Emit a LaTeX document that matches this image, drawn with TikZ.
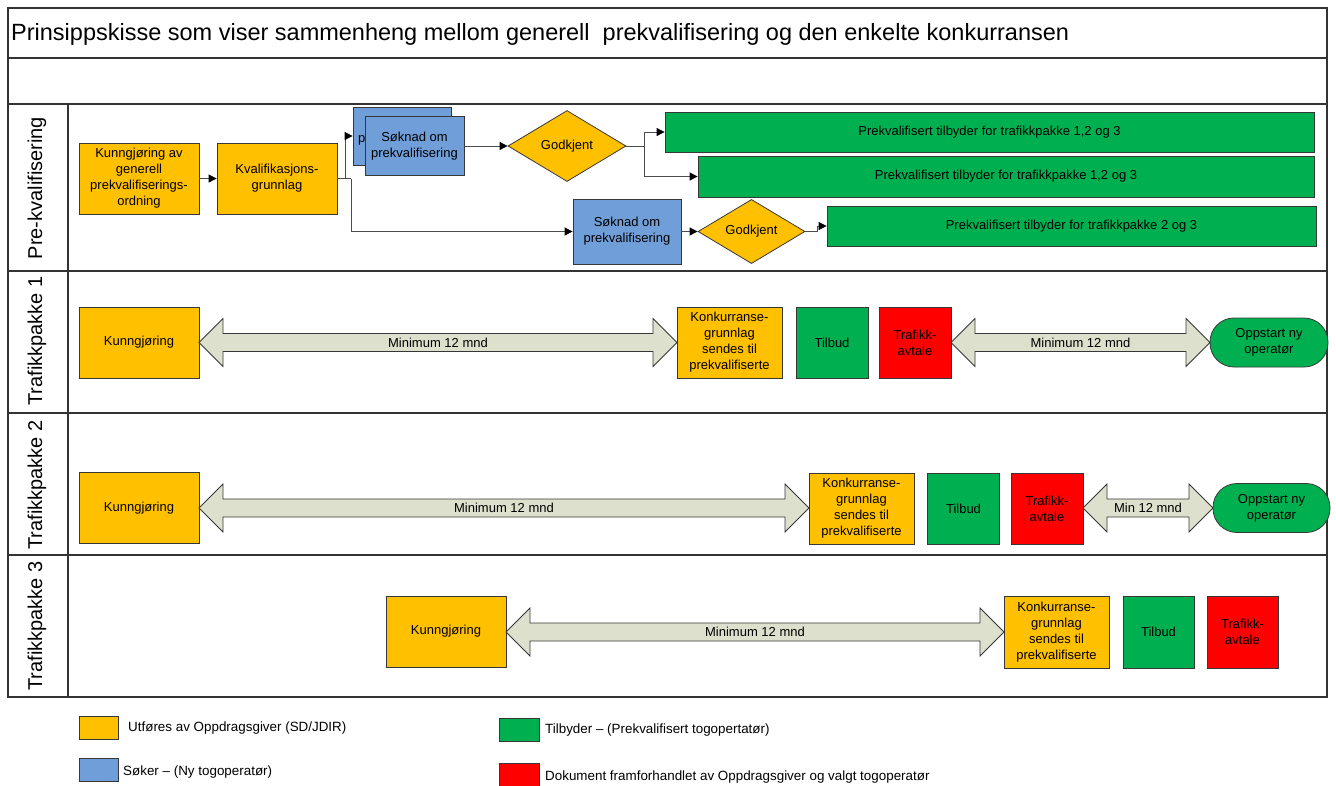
\documentclass[tikz,border=0pt]{standalone}
\usepackage{fontspec}
\setmainfont{Liberation Sans}
\usetikzlibrary{shapes.geometric,arrows.meta}
\definecolor{orng}{RGB}{255,192,0}
\definecolor{blu}{RGB}{112,158,216}
\definecolor{grn}{RGB}{0,176,80}
\definecolor{rd}{RGB}{255,0,0}
\definecolor{arrfill}{RGB}{221,224,205}
\definecolor{edgec}{RGB}{55,55,55}
\tikzset{
  sz/.style 2 args={minimum width=#1pt, minimum height=#2pt},
  box/.style={draw=edgec, line width=0.8pt, inner sep=0pt, align=center,
    font=\fontsize{13}{16}\selectfont, text=black},
  ob/.style={box, fill=orng},
  bb/.style={box, fill=blu},
  gb/.style={box, fill=grn},
  rb/.style={box, fill=rd},
  dia/.style={box, diamond, fill=orng},
  stad/.style={box, fill=grn, rounded corners=24pt},
  conn/.style={draw=black!70, line width=0.8pt},
  arrc/.style={conn, -{Triangle[length=8pt,width=8pt,color=black]}},
  frame/.style={draw=black!80, line width=1.3pt},
  lanelabel/.style={rotate=90, font=\fontsize{20}{24}\selectfont},
  dbl/.style={draw=edgec, fill=arrfill, line width=0.8pt},
  dbltext/.style={font=\fontsize{13}{16}\selectfont, inner sep=0pt},
  lgtext/.style={anchor=west, font=\fontsize{13.4}{16}\selectfont, inner sep=0pt},
}
\newcommand\dblarr[5]{%
  \draw[dbl] (#2,#4) -- ({#2+24},{#4-24}) -- ({#2+24},{#4-9}) -- ({#3-24},{#4-9})
    -- ({#3-24},{#4-24}) -- (#3,#4) -- ({#3-24},{#4+24}) -- ({#3-24},{#4+9})
    -- ({#2+24},{#4+9}) -- ({#2+24},{#4+24}) -- cycle;
  \node[dbltext] (#1) at ({(#2+#3)/2},#4) {#5};}
\begin{document}
\begin{tikzpicture}[x=1pt,y=-1pt]
\fill[white] (0,0) rectangle (1336,785);
\useasboundingbox (0,0) rectangle (1336,785);

% frame
\draw[frame] (8,8) rectangle (1327,697);
\draw[frame] (8,58) -- (1327,58);
\draw[frame] (8,104) -- (1327,104);
\draw[frame] (8,271) -- (1327,271);
\draw[frame] (8,413) -- (1327,413);
\draw[frame] (8,555) -- (1327,555);
\draw[frame] (68,104) -- (68,697);

\node[anchor=base west, inner sep=0pt, font=\fontsize{23.5}{28}\selectfont] (title) at (11,40)
  {Prinsippskisse som viser sammenheng mellom generell\ \ prekvalifisering og den enkelte konkurransen};

\node[lanelabel] (l0) at (37,188) {Pre-kvalifisering};
\node[lanelabel] (l1) at (37,341) {Trafikkpakke 1};
\node[lanelabel] (l2) at (37,485) {Trafikkpakke 2};
\node[lanelabel] (l3) at (37,626) {Trafikkpakke 3};

% pre-kvalifisering lane
\node[ob, sz={120}{71}] (k1) at (139,178.5) {Kunngjøring av\\generell\\prekvalifiserings-\\ordning};
\node[ob, sz={120}{71}] (kg) at (277,178.5) {Kvalifikasjons-\\grunnlag};
% stacked (back) application box: only the first letter of its text shows
\node[bb, sz={98}{58}, text width=88pt, align=left, inner xsep=5pt] (sb) at (402,136) {\mbox{}\\p};
\node[bb, sz={99}{59}] (sf) at (414.5,146) {Søknad om\\prekvalifisering};
\node[dia, sz={118}{71}] (d1) at (567,146) {Godkjent};
\node[gb, sz={649}{40}] (g1) at (989.5,132) {Prekvalifisert tilbyder for trafikkpakke 1,2 og 3};
\node[gb, sz={616}{41}] (g2) at (1006,176.5) {Prekvalifisert tilbyder for trafikkpakke 1,2 og 3};
\node[bb, sz={108}{65}] (s2) at (627,231.5) {Søknad om\\prekvalifisering};
\node[dia, sz={107}{59}] (d2) at (751.5,231.5) {Godkjent};
\node[gb, sz={489}{40}] (g3) at (1071.5,226) {Prekvalifisert tilbyder for trafikkpakke 2 og 3};

\coordinate (j1) at (345,178.5);
\coordinate (j2) at (351,178.5);
\coordinate (j3) at (644,146);
\coordinate (j4) at (817,231.5);
\draw[arrc] (k1.east) -- (kg.west);
\draw[conn] (kg.east) -- (j2);
\draw[arrc] (j1) |- (sb.west);
\draw[arrc] (j2) |- (s2.west);
\draw[arrc] (sf.east) -- (d1.west);
\draw[conn] (d1.east) -- (j3);
\draw[arrc] (j3) |- (g1.west);
\draw[arrc] (j3) |- (g2.west);
\draw[arrc] (s2.east) -- (d2.west);
\draw[conn] (d2.east) -- (j4);
\draw[arrc] (j4) |- (g3.west);

% Trafikkpakke 1
\node[ob, sz={120}{71}] (ku1) at (139,342.5) {Kunngjøring};
\node[ob, sz={105}{71}] (kk1) at (729.5,342.5) {Konkurranse-\\grunnlag\\sendes til\\prekvalifiserte};
\node[gb, sz={72}{71}] (tb1) at (832,342.5) {Tilbud};
\node[rb, sz={72}{71}] (ta1) at (915,342.5) {Trafikk-\\avtale};
\node[stad, sz={118}{49}] (op1) at (1269,342.5) {Oppstart ny\\operatør};
\dblarr{m1a}{199}{677}{342.5}{Minimum 12 mnd}
\dblarr{m1b}{951}{1210}{342.5}{Minimum 12 mnd}

% Trafikkpakke 2
\node[ob, sz={120}{71}] (ku2) at (139,508) {Kunngjøring};
\node[ob, sz={105}{71}] (kk2) at (861.5,508.5) {Konkurranse-\\grunnlag\\sendes til\\prekvalifiserte};
\node[gb, sz={72}{71}] (tb2) at (963.5,508.5) {Tilbud};
\node[rb, sz={72}{71}] (ta2) at (1047,508.5) {Trafikk-\\avtale};
\node[stad, sz={117}{49}] (op2) at (1271.5,508) {Oppstart ny\\operatør};
\dblarr{m2a}{199}{809}{508}{Minimum 12 mnd}
\dblarr{m2b}{1083}{1213}{508}{Min 12 mnd}

% Trafikkpakke 3
\node[ob, sz={120}{71}] (ku3) at (446,631.5) {Kunngjøring};
\node[ob, sz={105}{72}] (kk3) at (1056.5,632) {Konkurranse-\\grunnlag\\sendes til\\prekvalifiserte};
\node[gb, sz={71}{72}] (tb3) at (1158.5,632) {Tilbud};
\node[rb, sz={71}{72}] (ta3) at (1242.5,632) {Trafikk-\\avtale};
\dblarr{m3}{506}{1004}{632}{Minimum 12 mnd}

% legend
\node[ob, sz={39}{23}] (lg1) at (98.5,727.5) {};
\node[lgtext] (lt1) at (128,728) {Utføres av Oppdragsgiver (SD/JDIR)};
\node[bb, sz={39}{23}] (lg2) at (98.5,769.5) {};
\node[lgtext] (lt2) at (123,772) {Søker – (Ny togoperatør)};
\node[gb, sz={40}{23}] (lg3) at (519,729.5) {};
\node[lgtext] (lt3) at (545,730) {Tilbyder – (Prekvalifisert togopertatør)};
\node[rb, sz={40}{23}] (lg4) at (519,774.5) {};
\node[lgtext] (lt4) at (545,777) {Dokument framforhandlet av Oppdragsgiver og valgt togoperatør};
\end{tikzpicture}
\end{document}
